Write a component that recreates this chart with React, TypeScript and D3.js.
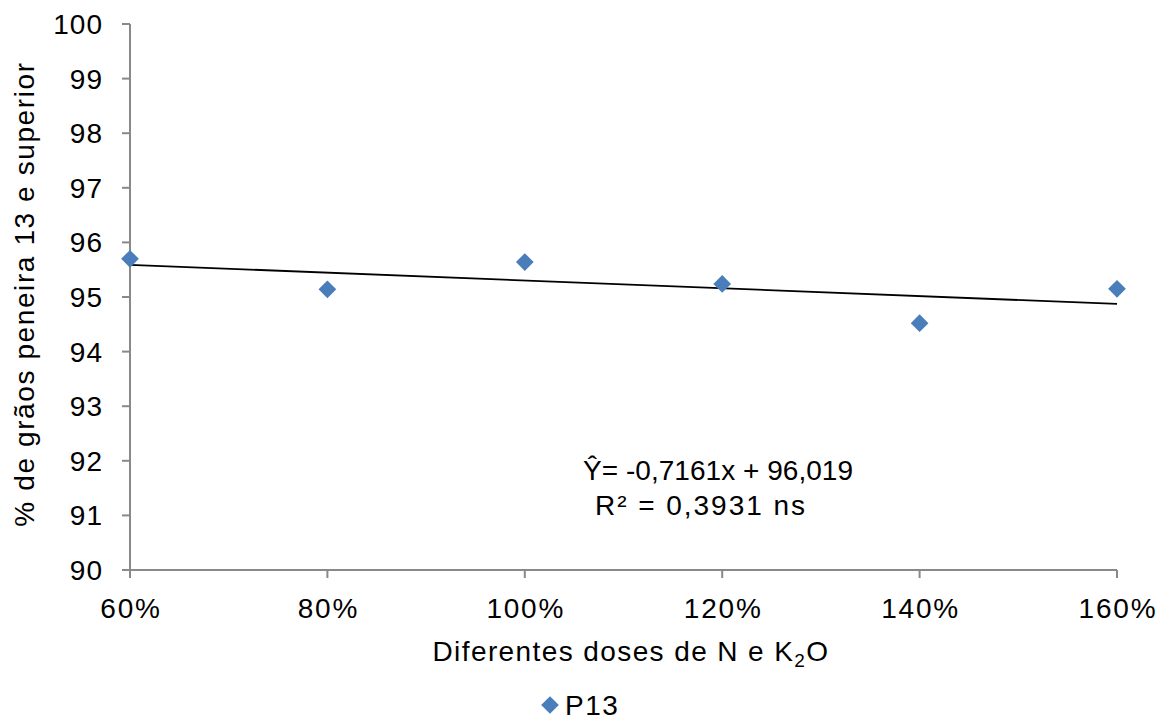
import React from "react";
import * as d3 from "d3";

// Doses of N and K2O (fraction of the recommended dose) and grain percentages
const doses = [0.6, 0.8, 1.0, 1.2, 1.4, 1.6];
const p13 = [95.7, 95.14, 95.64, 95.24, 94.52, 95.15];
const yTicks = [90, 91, 92, 93, 94, 95, 96, 97, 98, 99, 100];
const slope = -0.7161;
const intercept = 96.019;

const W = 1173;
const H = 720;
const FONT = "'Liberation Sans', Arial, sans-serif";
const FS = 28;

export default function App() {
  const x = d3.scaleLinear().domain([0.6, 1.6]).range([130, 1117]);
  const y = d3.scaleLinear().domain([90, 100]).range([570, 24]);
  const fmt = d3.format(".0%");
  const diamond = d3.symbol().type(d3.symbolDiamond2).size(200)()!;
  const trend = d3
    .line<number>()
    .x((d) => x(d))
    .y((d) => y(slope * d + intercept))([0.6, 1.6])!;

  return (
    <svg width={W} height={H} style={{ display: "block", position: "absolute", left: 0, top: 0 }} fontFamily={FONT}>
      <rect width={W} height={H} fill="#fff" />
      {/* y axis */}
      <line x1={130} x2={130} y1={y(100)} y2={y(90)} stroke="#898989" strokeWidth={2} />
      {yTicks.map((t) => (
        <g key={t}>
          <line x1={122} x2={130} y1={y(t)} y2={y(t)} stroke="#898989" strokeWidth={2} />
          <text x={103} y={y(t)} dy="0.36em" textAnchor="end" fontSize={FS} letterSpacing={1} fill="#000">
            {t}
          </text>
        </g>
      ))}
      {/* x axis */}
      <line x1={130} x2={1117} y1={570} y2={570} stroke="#898989" strokeWidth={2} />
      {doses.map((d) => (
        <g key={d}>
          <line x1={x(d)} x2={x(d)} y1={570} y2={578} stroke="#898989" strokeWidth={2} />
          <text x={x(d) + 1} y={618} textAnchor="middle" fontSize={FS} letterSpacing={1.8} fill="#000">
            {fmt(d)}
          </text>
        </g>
      ))}
      {/* trend line */}
      <path d={trend} stroke="#000" strokeWidth={1.8} fill="none" />
      {/* points */}
      {doses.map((d, i) => (
        <path key={i} d={diamond} transform={`translate(${x(d)},${y(p13[i])})`} fill="#4a7ebb" />
      ))}
      {/* equation */}
      <text x={583} y={480} fontSize={FS} textLength={270} lengthAdjust="spacing" fill="#000">
        Ŷ= -0,7161x + 96,019
      </text>
      <text x={595} y={515} fontSize={FS} textLength={210} lengthAdjust="spacing" fill="#000">
        R² = 0,3931 ns
      </text>
      {/* axis titles */}
      <text x={631} y={661} textAnchor="middle" fontSize={FS} letterSpacing={1.4} fill="#000">
        Diferentes doses de N e K<tspan dy={6} fontSize={19}>2</tspan>
        <tspan dy={-6}>O</tspan>
      </text>
      <text
        transform="translate(34,294) rotate(-90)"
        textAnchor="middle"
        fontSize={FS}
        letterSpacing={1.6}
        fill="#000"
      >
        % de grãos peneira 13 e superior
      </text>
      {/* legend */}
      <path d={diamond} transform="translate(550,705)" fill="#4a7ebb" />
      <text x={565} y={715} fontSize={FS} letterSpacing={1.5} fill="#000">
        P13
      </text>
    </svg>
  );
}
